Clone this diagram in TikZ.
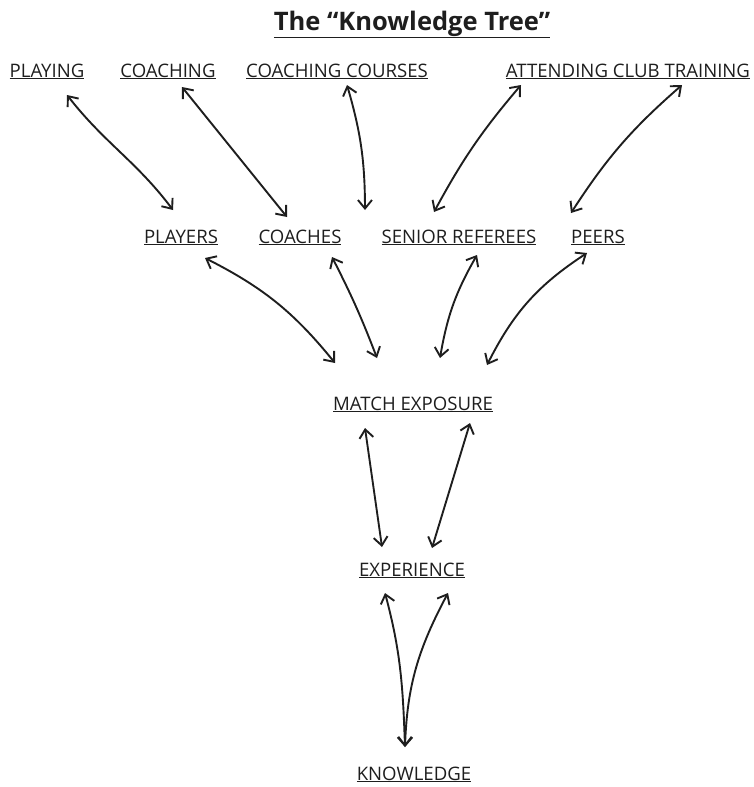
\documentclass[tikz,border=0pt]{standalone}
\usepackage{fontspec}
\setmainfont{Open Sans}
\usetikzlibrary{arrows.meta}
\definecolor{ink}{HTML}{1E1E1E}
\begin{document}
\begin{tikzpicture}[x=1pt,y=1pt,
  lbl/.style={inner sep=0pt, anchor=base, text=ink, font=\fontsize{18.6}{22}\selectfont},
  heading/.style={inner sep=0pt, anchor=base, text=ink, font=\fontsize{25.5}{30}\selectfont\bfseries},
  arr/.style={draw=ink, line width=1.9pt, line cap=round,
    {Straight Barb[length=8.5pt,width=14pt]}-{Straight Barb[length=8.5pt,width=14pt]}}]
\useasboundingbox (0,0) rectangle (754,-787);

% title
\node[heading] (title) at (412,-30) {\underline{The “Knowledge Tree”}};

% sources of knowledge
\node[lbl] (playing)  at (47,-77)  {\underline{PLAYING}};
\node[lbl] (coaching) at (168,-77) {\underline{COACHING}};
\node[lbl] (courses)  at (337,-77) {\underline{COACHING COURSES}};
\node[lbl] (club)     at (628,-77) {\underline{ATTENDING CLUB TRAINING}};

% people
\node[lbl] (players)  at (181,-243) {\underline{PLAYERS}};
\node[lbl] (coaches)  at (300,-243) {\underline{COACHES}};
\node[lbl] (seniors)  at (459,-243) {\underline{SENIOR REFEREES}};
\node[lbl] (peers)    at (598,-243) {\underline{PEERS}};

% trunk
\node[lbl] (match)      at (413,-410) {\underline{MATCH EXPOSURE}};
\node[lbl] (experience) at (412,-576) {\underline{EXPERIENCE}};
\node[lbl] (knowledge)  at (414,-780) {\underline{KNOWLEDGE}};

% top layer of links
\draw[arr] ([shift={(20,-18)}]playing.base) to[out=-52,in=127] ([shift={(-8,33)}]players.base);
\draw[arr] ([shift={(14,-10)}]coaching.base) -- ([shift={(-13,26)}]coaches.base);
\draw[arr] ([shift={(10,-8)}]courses.base) to[bend left=8] ([shift={(-94,33)}]seniors.base);
\draw[arr] ([shift={(-107,-8)}]club.base) to[bend right=6] ([shift={(-25,31)}]seniors.base);
\draw[arr] ([shift={(54,-8)}]club.base) to[bend right=8] ([shift={(-27,30)}]peers.base);

% people to match exposure
\draw[arr] ([shift={(24,-15)}]players.base) to[bend left=12] ([shift={(-78,47)}]match.base);
\draw[arr] ([shift={(32,-14)}]coaches.base) to[bend left=3] ([shift={(-36,52)}]match.base);
\draw[arr] ([shift={(18,-12)}]seniors.base) to[bend right=10] ([shift={(27,52)}]match.base);
\draw[arr] ([shift={(-11,-10)}]peers.base) to[bend right=15] ([shift={(74,45)}]match.base);

% match exposure to experience
\draw[arr] ([shift={(-48,-18)}]match.base) -- ([shift={(-30,29)}]experience.base);
\draw[arr] ([shift={(57,-13)}]match.base) -- ([shift={(20,28)}]experience.base);

% experience to knowledge
\draw[arr] ([shift={(-9,33)}]knowledge.base) to[out=92,in=-75] ([shift={(-27,-17)}]experience.base);
\draw[arr] ([shift={(-9,33)}]knowledge.base) to[out=88,in=-118] ([shift={(36,-17)}]experience.base);
\end{tikzpicture}
\end{document}
